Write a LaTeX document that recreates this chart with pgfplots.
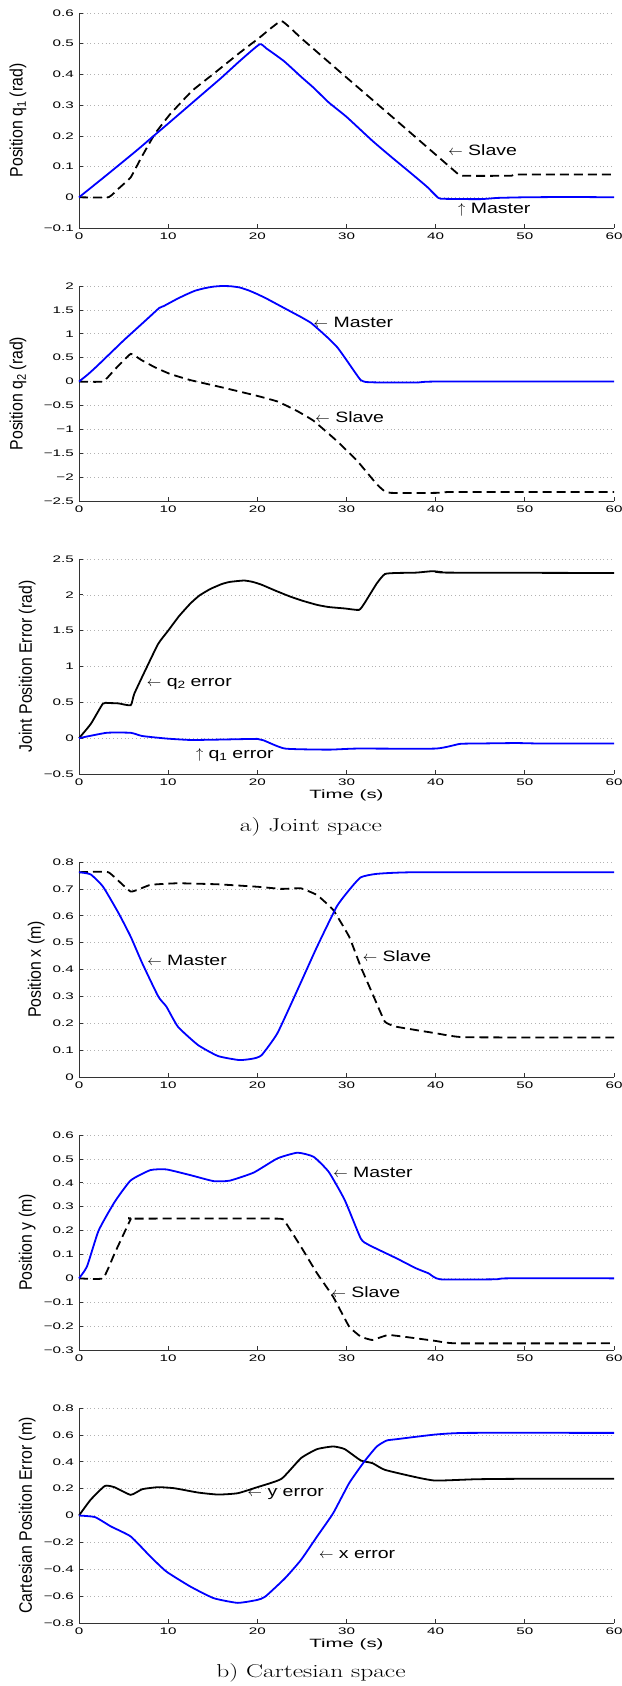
\documentclass[border=0pt]{standalone}
\usepackage{fontspec}
\setmainfont{Liberation Sans}
\newfontfamily\tickfont[FakeStretch=1.6]{Liberation Sans}
\newfontfamily\annfont[FakeStretch=1.3]{Liberation Sans}
\newfontfamily\timefont[FakeStretch=1.7]{Liberation Sans}
\newfontfamily\ylabfont[FakeStretch=0.88]{Liberation Sans}
\newfontfamily\capfont[FakeStretch=1.37]{Latin Modern Roman}
\usepackage{pgfplots}
\pgfplotsset{compat=1.18}
\newcommand\sub[1]{\raisebox{-0.35ex}{\scalebox{0.7}{#1}}}
\newcommand\ann[1]{\annfont\fontsize{15}{17}\selectfont #1}
\newcommand\la{$\leftarrow$}
\newcommand\ua{$\uparrow$}
\definecolor{mblue}{RGB}{0,0,255}
\pgfplotsset{
  base/.style={
    scale only axis, width=535pt, height=215pt,
    xmin=0, xmax=60, xtick={0,10,20,30,40,50,60},
    xticklabels={0,10,20,30,40,50,60},
    axis lines=left, axis line style={-, line width=0.7pt, black!80},
    tick align=inside, major tick length=4pt,
    tick style={line width=0.7pt, black!80},
    ymajorgrids,
    grid style={dash pattern=on 0.8pt off 3pt, line width=0.6pt, gray!60},
    tick label style={font=\tickfont\fontsize{9.5}{11}\selectfont},
    xticklabel style={anchor=north, inner sep=0pt, yshift=-5pt},
    yticklabel style={anchor=east, inner sep=0pt, xshift=-5pt},
    every axis y label/.style={at={(axis description cs:-0.1,0.5)}, rotate=90, anchor=center, font=\ylabfont\fontsize{18}{20}\selectfont},
    every axis x label/.style={at={(axis description cs:0.5,0)}, anchor=center, yshift=-21pt, font=\timefont\fontsize{12}{14}\selectfont},
    clip=false,
  },
  master/.style={mblue, line width=1.8pt, smooth, tension=0.3},
  slave/.style={black, line width=1.8pt, dash pattern=on 9pt off 5pt, smooth, tension=0.2},
  err/.style={black, line width=1.8pt, smooth, tension=0.3},
}
\begin{document}
\begin{tikzpicture}
\path[use as bounding box] (0pt,0pt) rectangle (621pt,-1686pt);

% ---------------- Plot 1: q1 ----------------
\begin{axis}[base, at={(79pt,-228pt)}, anchor=south west,
  ymin=-0.1, ymax=0.6, ytick={-0.1,0,0.1,0.2,0.3,0.4,0.5,0.6},
  yticklabels={−0.1,0,0.1,0.2,0.3,0.4,0.5,0.6},
  every axis y label/.append style={at={(axis description cs:-0.114,0.5)}},
  ylabel={Position q\sub{1} (rad)}]
\addplot[slave] coordinates {(0,0) (3.3,0) (4.5,0.03) (5.8,0.065) (7,0.13) (8.5,0.206) (10.2,0.27) (12.7,0.347) (15,0.4) (18,0.47) (20.25,0.52) (22.7,0.574) (25,0.516) (30,0.39) (35,0.265) (40,0.139) (42.5,0.076) (43,0.07) (48.5,0.07) (49,0.074) (60,0.074)};
\addplot[master] coordinates {(0,0) (3,0.07) (6.45,0.152) (8.5,0.203) (10,0.24) (12,0.29) (14,0.34) (16,0.39) (18,0.443) (20.25,0.498) (21,0.485) (23,0.443) (25,0.39) (26.3,0.357) (28,0.309) (30,0.262) (32.9,0.184) (35,0.132) (37,0.084) (39,0.035) (40.3,-0.002) (41,-0.005) (45,-0.006) (47,-0.002) (50,0) (55,0.001) (60,0)};
\node[anchor=west, inner sep=0pt] at (axis cs:41.4,0.152) {\ann{\la{} Slave}};
\node[anchor=west, inner sep=0pt] at (axis cs:42.5,-0.041) {\ann{\ua{} Master}};
\end{axis}

% ---------------- Plot 2: q2 ----------------
\begin{axis}[base, at={(79pt,-501pt)}, anchor=south west,
  ymin=-2.5, ymax=2, ytick={-2.5,-2,-1.5,-1,-0.5,0,0.5,1,1.5,2},
  yticklabels={−2.5,−2,−1.5,−1,−0.5,0,0.5,1,1.5,2},
  every axis y label/.append style={at={(axis description cs:-0.114,0.5)}},
  ylabel={Position q\sub{2} (rad)}]
\addplot[slave] coordinates {(0,0) (2.7,0) (4,0.25) (5.8,0.58) (7,0.45) (8.5,0.3) (10.2,0.16) (12.5,0.03) (16,-0.12) (20,-0.3) (22.3,-0.42) (24.5,-0.62) (26.3,-0.82) (28.9,-1.24) (31.2,-1.66) (33.4,-2.15) (34.3,-2.3) (35,-2.33) (40,-2.33) (42,-2.31) (60,-2.31)};
\addplot[master] coordinates {(0,0) (1,0.15) (2,0.32) (3,0.5) (4,0.68) (5,0.86) (6,1.03) (7,1.2) (8,1.37) (9,1.54) (9.5,1.58) (10,1.63) (11,1.73) (12,1.82) (13,1.9) (14,1.95) (15,1.985) (16,2.0) (17,1.995) (18,1.97) (19,1.91) (20,1.83) (21,1.74) (22,1.64) (23,1.54) (24,1.44) (25,1.34) (26,1.23) (27,1.07) (28,0.9) (29,0.71) (30,0.45) (31,0.18) (31.6,0.03) (32.2,-0.01) (34,-0.02) (38,-0.02) (40,0) (60,0)};
\node[anchor=west, inner sep=0pt] at (axis cs:26.3,1.23) {\ann{\la{} Master}};
\node[anchor=west, inner sep=0pt] at (axis cs:26.5,-0.75) {\ann{\la{} Slave}};
\end{axis}

% ---------------- Plot 3: joint error ----------------
\begin{axis}[base, at={(79pt,-774pt)}, anchor=south west,
  ymin=-0.5, ymax=2.5, ytick={-0.5,0,0.5,1,1.5,2,2.5},
  yticklabels={−0.5,0,0.5,1,1.5,2,2.5},
  every axis y label/.append style={at={(axis description cs:-0.097,0.5)}},
  ylabel={Joint Position Error (rad)}, xlabel={Time (s)}]
\addplot[err] coordinates {(0,0) (1.33,0.2) (2.67,0.48) (3.3,0.49) (4.45,0.485) (5.8,0.46) (6.2,0.62) (7.6,0.99) (8.9,1.32) (10,1.5) (11.2,1.7) (12.5,1.88) (13.5,1.99) (14.7,2.08) (16,2.15) (16.9,2.18) (18.5,2.2) (19.5,2.18) (20.5,2.14) (22,2.06) (23.6,1.98) (25,1.92) (26.7,1.86) (28,1.83) (29.8,1.81) (31.4,1.79) (32,1.88) (33.4,2.16) (34.3,2.29) (35.6,2.305) (37.8,2.31) (39.6,2.33) (40.5,2.32) (41.4,2.31) (60,2.305)};
\addplot[master] coordinates {(0,0) (3.1,0.075) (5.8,0.075) (7.1,0.03) (9.8,-0.005) (12.5,-0.025) (15.6,-0.02) (20,-0.01) (20.7,-0.03) (23.1,-0.145) (28,-0.16) (31.2,-0.145) (40,-0.145) (42.7,-0.08) (44.5,-0.075) (49,-0.068) (52,-0.075) (60,-0.075)};
\node[anchor=west, inner sep=0pt] at (axis cs:7.6,0.76) {\ann{\la{} q\sub{2} error}};
\node[anchor=west, inner sep=0pt] at (axis cs:13.1,-0.23) {\ann{\ua{} q\sub{1} error}};
\end{axis}
\node[inner sep=0pt] at (311pt,-827pt) {\capfont\fontsize{18.6}{22}\selectfont a) Joint space};

% ---------------- Plot 4: x ----------------
\begin{axis}[base, at={(79pt,-1077pt)}, anchor=south west,
  ymin=0, ymax=0.8, ytick={0,0.1,0.2,0.3,0.4,0.5,0.6,0.7,0.8},
  yticklabels={0,0.1,0.2,0.3,0.4,0.5,0.6,0.7,0.8},
  every axis y label/.append style={at={(axis description cs:-0.08,0.5)}},
  ylabel={Position x (m)}]
\addplot[slave] coordinates {(0,0.762) (3.3,0.762) (5.8,0.69) (8,0.715) (11.1,0.721) (15.6,0.717) (20,0.708) (22.7,0.70) (24.9,0.702) (26.7,0.677) (28.5,0.622) (30.3,0.522) (31.6,0.41) (32.9,0.311) (34.3,0.206) (35.6,0.187) (40,0.163) (43.2,0.148) (60,0.147)};
\addplot[master] coordinates {(0,0.762) (1.3,0.754) (2.7,0.708) (4.45,0.609) (5.8,0.522) (7.1,0.423) (8.9,0.299) (9.8,0.262) (11.1,0.187) (13.35,0.119) (15.6,0.078) (18,0.063) (19.6,0.069) (20.5,0.082) (22.25,0.163) (24.5,0.324) (26.7,0.485) (28.9,0.634) (30.3,0.696) (31.6,0.743) (33.4,0.756) (37.8,0.762) (60,0.762)};
\node[anchor=west, inner sep=0pt] at (axis cs:7.65,0.435) {\ann{\la{} Master}};
\node[anchor=west, inner sep=0pt] at (axis cs:31.8,0.45) {\ann{\la{} Slave}};
\end{axis}

% ---------------- Plot 5: y ----------------
\begin{axis}[base, at={(79pt,-1350pt)}, anchor=south west,
  ymin=-0.3, ymax=0.6, ytick={-0.3,-0.2,-0.1,0,0.1,0.2,0.3,0.4,0.5,0.6},
  yticklabels={−0.3,−0.2,−0.1,0,0.1,0.2,0.3,0.4,0.5,0.6},
  every axis y label/.append style={at={(axis description cs:-0.097,0.5)}},
  ylabel={Position y (m)}]
\addplot[slave] coordinates {(0,0) (2.7,0) (4,0.105) (5.8,0.248) (6,0.25) (22.25,0.25) (23.1,0.237) (24.9,0.132) (26.7,0.021) (28.5,-0.077) (30.3,-0.202) (31.6,-0.244) (32.9,-0.258) (34.7,-0.237) (37.8,-0.251) (40,-0.262) (42.3,-0.272) (60,-0.272)};
\addplot[master] coordinates {(0,0) (0.9,0.05) (2.2,0.2) (4,0.32) (5.8,0.41) (8,0.453) (9.8,0.456) (12.5,0.432) (15.1,0.407) (16.9,0.409) (19.6,0.443) (22.25,0.502) (24.5,0.526) (26.3,0.509) (28,0.446) (29.8,0.328) (31.6,0.167) (32.5,0.14) (35.6,0.084) (37.8,0.042) (39.2,0.021) (40.5,-0.004) (46.7,-0.004) (48,0) (60,0)};
\node[anchor=west, inner sep=0pt] at (axis cs:28.5,0.443) {\ann{\la{} Master}};
\node[anchor=west, inner sep=0pt] at (axis cs:28.3,-0.056) {\ann{\la{} Slave}};
\end{axis}

% ---------------- Plot 6: cartesian error ----------------
\begin{axis}[base, at={(79pt,-1623pt)}, anchor=south west,
  ymin=-0.8, ymax=0.8, ytick={-0.8,-0.6,-0.4,-0.2,0,0.2,0.4,0.6,0.8},
  yticklabels={−0.8,−0.6,−0.4,−0.2,0,0.2,0.4,0.6,0.8},
  every axis y label/.append style={at={(axis description cs:-0.097,0.5)}},
  ylabel={Cartesian Position Error (m)}, xlabel={Time (s)}]
\addplot[err] coordinates {(0,0) (1.3,0.117) (2.9,0.22) (4,0.21) (5.8,0.154) (7.1,0.196) (8.9,0.211) (10.7,0.203) (13.35,0.171) (15.6,0.156) (17.8,0.166) (20,0.211) (22.7,0.273) (24.9,0.427) (26.7,0.494) (28.5,0.514) (29.8,0.494) (31.6,0.41) (32.9,0.39) (34.3,0.34) (37.8,0.285) (40,0.26) (44.5,0.27) (49,0.273) (60,0.273)};
\addplot[master] coordinates {(0,0) (1.8,-0.012) (3.6,-0.082) (5.8,-0.156) (8,-0.305) (9.8,-0.417) (12.5,-0.529) (15.1,-0.615) (17.8,-0.65) (20,-0.628) (20.9,-0.603) (23.1,-0.467) (24.9,-0.33) (26.7,-0.156) (28.5,0.017) (30.3,0.241) (32,0.402) (33.4,0.514) (34.5,0.558) (35.6,0.568) (40,0.603) (43.6,0.615) (60,0.615)};
\node[anchor=west, inner sep=0pt] at (axis cs:18.9,0.159) {\ann{\la{} y error}};
\node[anchor=west, inner sep=0pt] at (axis cs:26.9,-0.288) {\ann{\la{} x error}};
\end{axis}
\node[inner sep=0pt] at (311pt,-1673pt) {\capfont\fontsize{18.6}{22}\selectfont b) Cartesian space};
\end{tikzpicture}
\end{document}
